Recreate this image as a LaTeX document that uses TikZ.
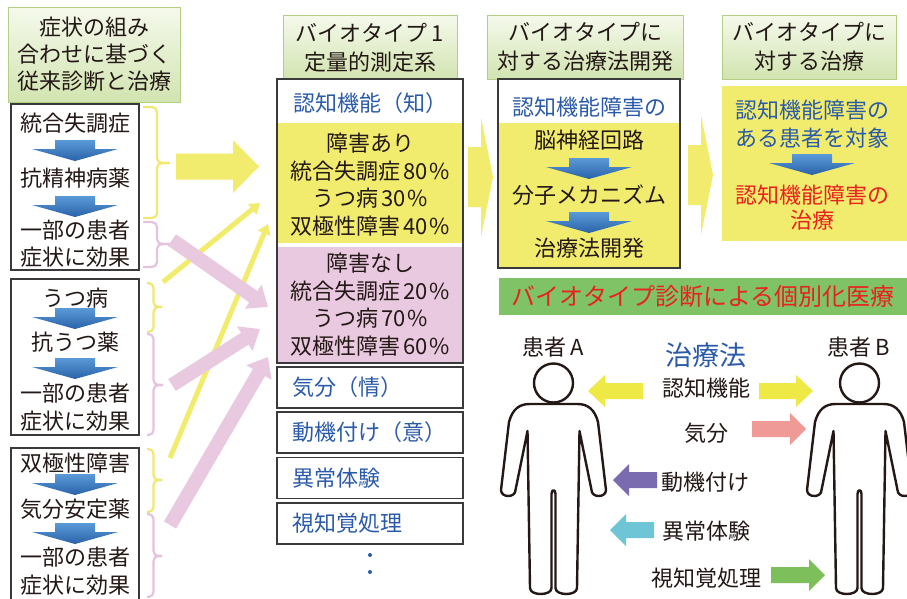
\documentclass[tikz,border=0pt]{standalone}
\usepackage{fontspec}
\setmainfont{Noto Sans CJK JP}
\usetikzlibrary{arrows.meta}

\definecolor{ink}{HTML}{231815}
\definecolor{hdrtop}{HTML}{F5F9EC}
\definecolor{hdrbot}{HTML}{D2E4B0}
\definecolor{hdrline}{HTML}{B3CF86}
\definecolor{boxline}{HTML}{3A3A3A}
\definecolor{impyellow}{HTML}{F2EC6E}
\definecolor{imppink}{HTML}{E9C9E0}
\definecolor{braceyellow}{HTML}{F0E870}
\definecolor{bracepink}{HTML}{E6C3DC}
\definecolor{txtblue}{HTML}{2B5BA8}
\definecolor{txtred}{HTML}{E8221E}
\definecolor{bannergreen}{HTML}{80C266}
\definecolor{arrbluetop}{HTML}{5A9AD8}
\definecolor{arrbluebot}{HTML}{2A62A8}
\definecolor{tyellow}{HTML}{EFE946}
\definecolor{tpink}{HTML}{F09A98}
\definecolor{tpurple}{HTML}{7A6BB0}
\definecolor{tcyan}{HTML}{6EC5D5}
\definecolor{tgreen}{HTML}{7DC05B}

\newcommand\bodysize{\fontsize{22}{27}\selectfont}
\newcommand\pct[1]{\kern3pt#1\kern1pt\%}

% filled block arrow: colour, tail x, tip x, centre y, shaft half height, head half height, head length
\newcommand\blockarrow[7]{%
  \pgfmathsetmacro\baneck{#3-(#7)*sign(#3-#2)}%
  \fill[#1] (#2,{#4-#5}) -- (\baneck,{#4-#5}) -- (\baneck,{#4-#6}) -- (#3,#4)
    -- (\baneck,{#4+#6}) -- (\baneck,{#4+#5}) -- (#2,{#4+#5}) -- cycle;}

% curly group bracket: colour, hook x, spine x, tip x, top y, tip y, bottom y
\newcommand\groupbracket[7]{%
  \draw[draw=#1, line width=2.2pt, rounded corners=5pt] (#2,#5) -| (#3,#6) -- (#4,#6);
  \draw[draw=#1, line width=2.2pt, rounded corners=5pt] (#2,#7) -| (#3,#6) -- (#4,#6);}

\tikzset{
  bluedown/.pic={
    \shade[top color=arrbluetop, bottom color=arrbluebot]
      (-20,0) -- (20,0) -- (20,9) -- (43,9) -- (0,21) -- (-43,9) -- (-20,9) -- cycle;
  },
  person/.pic={
    \draw[line width=2.4pt, draw=ink] (0,383) circle (19.5pt);
    \draw[line width=2.4pt, draw=ink, line join=round]
      (-26,431) -- (-23.5,588) .. controls (-23.5,596) and (-2,596) .. (-2,588)
      -- (-2,494) .. controls (-2,489) and (2,489) .. (2,494)
      -- (2,588) .. controls (2,596) and (23.5,596) .. (23.5,588)
      -- (26,431) -- (38,490) .. controls (38,498) and (52.5,498) .. (52.5,490)
      -- (44.5,422) .. controls (41,409) and (34,404) .. (24,404)
      -- (-24,404) .. controls (-34,404) and (-41,409) .. (-44.5,422)
      -- (-52.5,490) .. controls (-52.5,498) and (-38,498) .. (-38,490) -- cycle;
  }
}

\begin{document}
\begin{tikzpicture}[x=1pt,y=-1pt,
  every node/.style={inner sep=0pt, text=ink, font=\bodysize},
  hdr/.style={draw=hdrline, line width=1pt, top color=hdrtop, bottom color=hdrbot, align=center},
  frame/.style={draw=boxline, line width=1.4pt},
  itembox/.style={frame, minimum width=186pt, minimum height=41pt, text width=156pt,
    inner xsep=15pt, align=left, text=txtblue},
  thinyellow/.style={draw=impyellow, line width=5pt, -{Triangle[length=10pt,width=13pt]}},
  fatpink/.style={draw=imppink, line width=14pt, -{Triangle[length=18pt,width=28pt]}},
  multi/.style={align=center, font=\fontsize{22}{27.5}\selectfont}
]
\useasboundingbox (0,0) rectangle (907,598);
\clip (0,0) rectangle (907,598);
\fill[white] (0,0) rectangle (907,598);

% ---------- left column: conventional diagnosis ----------
\node[hdr, minimum width=172pt, minimum height=95pt] (hdrL) at (94,54.5)
  {症状の組み\\合わせに基づく\\従来診断と治療};

\node[frame, minimum width=128pt, minimum height=166pt] (boxA) at (75,187) {};
\node (a1) at (75,123) {統合失調症};
\node (a2) at (75,178) {抗精神病薬};
\node (a3) at (75,230) {一部の患者};
\node (a4) at (75,257) {症状に効果};
\pic at (75,140) {bluedown};
\pic at (75,196) {bluedown};

\node[frame, minimum width=128pt, minimum height=156pt] (boxB) at (75,357) {};
\node (b1) at (75,298) {うつ病};
\node (b2) at (75,342) {抗うつ薬};
\node (b3) at (75,393) {一部の患者};
\node (b4) at (75,421) {症状に効果};
\pic at (75,308) {bluedown};
\pic at (75,358) {bluedown};

\node[frame, minimum width=128pt, minimum height=164pt] (boxC) at (75,530) {};
\node (c1) at (75,463) {双極性障害};
\node (c2) at (75,509) {気分安定薬};
\node (c3) at (75,557) {一部の患者};
\node (c4) at (75,585) {症状に効果};
\pic at (75,474) {bluedown};
\pic at (75,523) {bluedown};

% brackets grouping the outcomes
\groupbracket{braceyellow}{143}{157}{170}{107}{163}{218}
\groupbracket{bracepink}{143}{157}{170}{222}{244}{267}
\groupbracket{braceyellow}{147}{153.5}{162}{283}{307}{332}
\groupbracket{bracepink}{147}{153.5}{163}{334}{385}{435}
\groupbracket{braceyellow}{147}{153.5}{162}{449}{480}{512}
\groupbracket{bracepink}{147}{153.5}{162}{514}{556}{597}

% links from the diagnoses to the biotype groups
\blockarrow{impyellow}{176}{259}{166.5}{13}{26.5}{26}
\coordinate (y1s) at (163,282);
\coordinate (y1e) at (260,203);
\coordinate (y2s) at (170,458);
\coordinate (y2e) at (268,224);
\coordinate (p1s) at (172,240);
\coordinate (p1e) at (268,307);
\coordinate (p2s) at (172,385);
\coordinate (p2e) at (260,329);
\coordinate (p3s) at (170,525);
\coordinate (p3e) at (268,357);
\draw[thinyellow] (y1s) -- (y1e);
\draw[thinyellow] (y2s) -- (y2e);
\draw[fatpink] (p1s) -- (p1e);
\draw[fatpink] (p2s) -- (p2e);
\draw[fatpink] (p3s) -- (p3e);

% ---------- biotype 1 ----------
\node[hdr, minimum width=174pt, minimum height=64pt, font=\fontsize{22}{29}\selectfont] (hdrM) at (370,47.5)
  {バイオタイプ\kern4pt 1\\定量的測定系};
\fill[impyellow] (278,123) rectangle (462,243);
\fill[imppink] (278,247) rectangle (462,362);
\node[frame, minimum width=186pt, minimum height=284pt] (cogbox) at (370,221) {};
\node[text=txtblue] (cog) at (370,103) {認知機能（知）};
\node[multi] (impyes) at (370,184.5) {障害あり\\統合失調症\pct{80}\\うつ病\pct{30}\\双極性障害\pct{40}};
\node[multi] (impno) at (370,304.5) {障害なし\\統合失調症\pct{20}\\うつ病\pct{70}\\双極性障害\pct{60}};
\node[itembox] (mood) at (370,387.5) {気分（情）};
\node[itembox] (motiv) at (370,432.5) {動機付け（意）};
\node[itembox] (abn) at (370,478) {異常体験};
\node[itembox] (visual) at (370,523.5) {視知覚処理};
\fill[txtblue] (370,555) circle (2pt);
\fill[txtblue] (370,572) circle (2pt);

\blockarrow{impyellow}{468}{493}{177}{30}{60}{12}

% ---------- treatment development ----------
\node[hdr, minimum width=196pt, minimum height=64pt, font=\fontsize{22}{29}\selectfont] (hdrD) at (585,47)
  {バイオタイプに\\対する治療法開発};
\fill[impyellow] (499,123) rectangle (679,267);
\node[frame, minimum width=182pt, minimum height=189pt] (devbox) at (589,173.5) {};
\node[text=txtblue] (d0) at (589,107) {認知機能障害の};
\node (d1) at (589,140) {脳神経回路};
\node (d2) at (589,195) {分子メカニズム};
\node (d3) at (589,248) {治療法開発};
\pic at (589,158) {bluedown};
\pic at (589,212) {bluedown};

\blockarrow{impyellow}{688}{713}{175}{30}{60}{12}

% ---------- treatment ----------
\node[hdr, minimum width=174pt, minimum height=64pt, font=\fontsize{22}{29}\selectfont] (hdrT) at (809,47)
  {バイオタイプに\\対する治療};
\node[fill=impyellow, minimum width=185pt, minimum height=155pt] (treatbox) at (814.5,163.5) {};
\node[text=txtblue, align=center, font=\fontsize{22}{28}\selectfont] (t1) at (812,124) {認知機能障害の\\ある患者を対象};
\node[text=txtred, align=center, font=\fontsize{22}{25}\selectfont] (t2) at (812,207.5) {認知機能障害の\\治療};
\pic at (812,154) {bluedown};

% ---------- personalised treatment ----------
\node[fill=bannergreen, minimum width=408pt, minimum height=37pt, text=txtred,
  font=\fontsize{24}{28}\selectfont] (banner) at (703,296.5) {バイオタイプ診断による個別化医療};

\node (patA) at (553,347) {患者\kern4pt A};
\node (patB) at (859,347) {患者\kern4pt B};
\node[text=txtblue, font=\fontsize{27}{30}\selectfont] (therapy) at (706,355) {治療法};
\node (l1) at (706,388) {認知機能};
\node (l2) at (706,433) {気分};
\node (l3) at (705,482) {動機付け};
\node (l4) at (706,531) {異常体験};
\node (l5) at (706,578) {視知覚処理};

\blockarrow{tyellow}{643}{588}{391}{8}{16}{17}
\blockarrow{tyellow}{759}{813}{391}{8}{16}{17}
\blockarrow{tpink}{752}{806}{429}{8}{16}{16}
\blockarrow{tpurple}{657}{613}{480}{8}{16}{16}
\blockarrow{tcyan}{654}{610}{530}{8}{16}{16}
\blockarrow{tgreen}{771}{825}{575}{8}{16}{16}

\pic at (553.5,0) {person};
\pic at (859.5,0) {person};
\end{tikzpicture}
\end{document}
